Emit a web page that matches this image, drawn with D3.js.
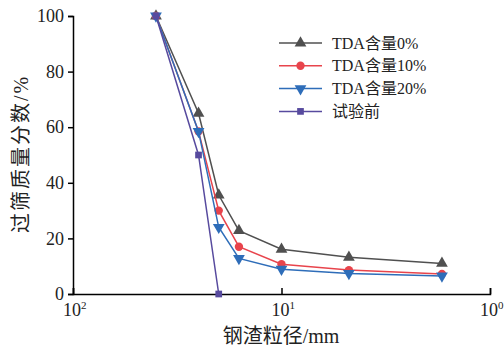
<!DOCTYPE html>
<html>
<head>
<meta charset="utf-8">
<script src="https://cdn.jsdelivr.net/npm/d3@7"></script>
<style>
  body { margin: 0; background: #fff; }
  svg { display: block; font-family: "Liberation Serif", "Noto Sans CJK SC", serif; }
</style>
</head>
<body>
<svg id="chart" width="504" height="350"></svg>
<script>
// sieve sizes (mm) and passing percentages
var sizes = [40, 25, 20, 16, 10, 4.75, 1.7];
var sizesBefore = [40, 25, 20];
var tda0 = [100, 65, 35.6, 22.8, 16.1, 13.2, 11.0];
var tda10 = [100, 58.5, 30.0, 17.0, 10.7, 8.6, 7.2];
var tda20 = [100, 58.5, 24.0, 12.8, 8.9, 7.4, 6.5];
var before = [100, 50, 0];
var seriesNames = ["TDA含量0%", "TDA含量10%", "TDA含量20%", "试验前"];
var yTicks = [0, 20, 40, 60, 80, 100];
var xTicks = [100, 10, 1];
var xTickExp = ["2", "1", "0"];

var margin = {top: 16, right: 14, bottom: 56, left: 73};
var svg = d3.select("#chart");
var width = 504 - margin.left - margin.right,
    height = 350 - margin.top - margin.bottom;

var x = d3.scaleLog().domain([100, 1]).range([margin.left, margin.left + width]);
var y = d3.scaleLinear().domain([0, 100]).range([margin.top + height, margin.top]);

var series = [
  {name: seriesNames[0], xs: sizes, ys: tda0, color: "#505050", shape: d3.symbolTriangle, rot: 0, size: 60},
  {name: seriesNames[1], xs: sizes, ys: tda10, color: "#e8444c", shape: d3.symbolCircle, rot: 0, size: 55},
  {name: seriesNames[2], xs: sizes, ys: tda20, color: "#2e6db9", shape: d3.symbolTriangle, rot: 180, size: 60},
  {name: seriesNames[3], xs: sizesBefore, ys: before, color: "#574a9e", shape: d3.symbolSquare, rot: 0, size: 45}
];

// axes
var yAxis = svg.append("g")
    .attr("transform", "translate(" + margin.left + ",0)")
    .call(d3.axisLeft(y).tickValues(yTicks).tickSize(5).tickPadding(4));
yAxis.select(".domain").attr("stroke", "#000").attr("stroke-width", 1.5);
yAxis.selectAll(".tick line").attr("stroke-width", 1.5);
yAxis.selectAll(".tick text")
    .attr("font-size", 18)
    .attr("font-family", "Liberation Serif")
    .attr("fill", "#222");

var xAxis = svg.append("g")
    .attr("transform", "translate(0," + (margin.top + height) + ")")
    .call(d3.axisBottom(x).tickValues(xTicks).tickSize(-6).tickFormat(""));
xAxis.select(".domain").attr("stroke", "#000").attr("stroke-width", 1.5);
xAxis.selectAll(".tick line").attr("stroke-width", 1.5);

var xl = svg.append("g")
    .attr("font-family", "Liberation Serif")
    .attr("fill", "#222");
xTicks.forEach(function(t, i) {
  var tx = xl.append("text")
      .attr("x", x(t) - 10)
      .attr("y", margin.top + height + 22)
      .attr("font-size", 18);
  tx.append("tspan").text("10");
  tx.append("tspan").attr("dy", -7).attr("font-size", 11).text(xTickExp[i]);
});

// axis titles
svg.append("text")
    .attr("x", 281)
    .attr("y", 343)
    .attr("text-anchor", "middle")
    .attr("font-size", 20)
    .attr("fill", "#222")
    .text("钢渣粒径/mm");

svg.append("text")
    .attr("transform", "translate(28,154) rotate(-90)")
    .attr("text-anchor", "middle")
    .attr("font-size", 20)
    .attr("letter-spacing", 2)
    .attr("fill", "#222")
    .text("过筛质量分数/%");

// lines and markers
var line = d3.line()
    .x(function(d) { return x(d[0]); })
    .y(function(d) { return y(d[1]); });

series.forEach(function(s) {
  var pts = s.xs.map(function(v, i) { return [v, s.ys[i]]; });
  var g = svg.append("g");
  g.append("path")
      .datum(pts)
      .attr("fill", "none")
      .attr("stroke", s.color)
      .attr("stroke-width", 1.5)
      .attr("d", line);
  g.selectAll("path.pt")
      .data(pts)
      .enter().append("path")
      .attr("class", "pt")
      .attr("fill", s.color)
      .attr("d", d3.symbol().type(s.shape).size(s.size))
      .attr("transform", function(d) {
        return "translate(" + x(d[0]) + "," + y(d[1]) + ") rotate(" + s.rot + ")";
      });
});

// legend
var legend = svg.append("g")
    .attr("class", "legend")
    .attr("transform", "translate(279,43)");

series.forEach(function(s, i) {
  var row = legend.append("g").attr("transform", "translate(0," + (i * 22.8) + ")");
  row.append("line")
      .attr("x1", 0).attr("x2", 43)
      .attr("y1", 0).attr("y2", 0)
      .attr("stroke", s.color)
      .attr("stroke-width", 1.5);
  row.append("path")
      .attr("fill", s.color)
      .attr("d", d3.symbol().type(s.shape).size(s.size))
      .attr("transform", "translate(21.5,0) rotate(" + s.rot + ")");
  row.append("text")
      .attr("x", 53)
      .attr("y", 0)
      .attr("dy", "0.35em")
      .attr("font-size", 16)
      .attr("fill", "#222")
      .text(s.name);
});
</script>
</body>
</html>
